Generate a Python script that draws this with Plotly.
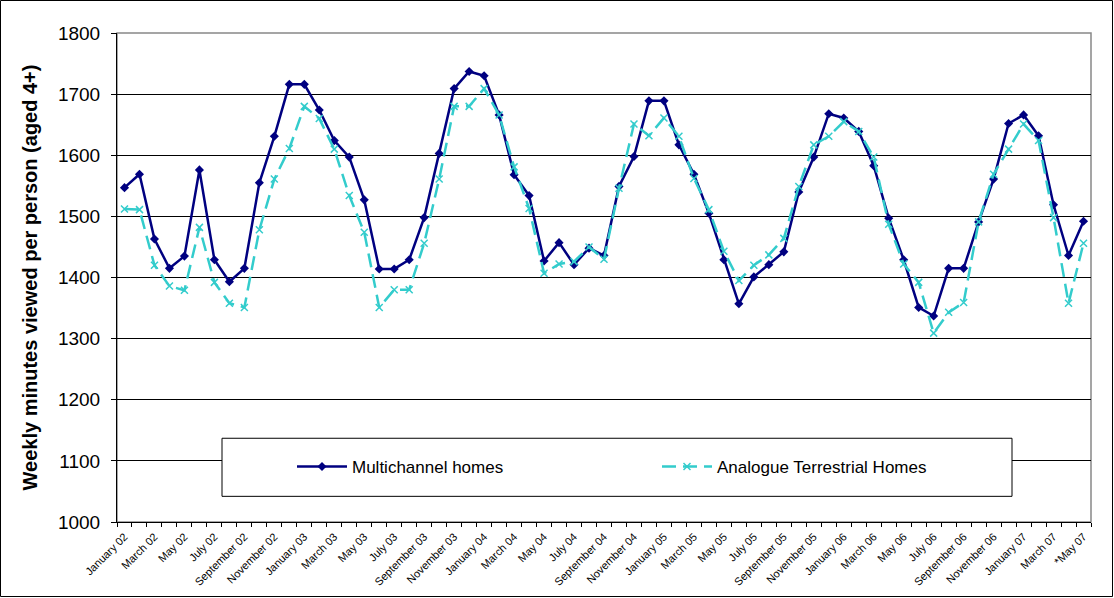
import numpy as np
import plotly.graph_objects as go

month_names = ["January", "February", "March", "April", "May", "June", "July",
               "August", "September", "October", "November", "December"]
months = []
for yr in ["02", "03", "04", "05", "06", "07"]:
    for m in month_names:
        months.append(f"{m} {yr}")
months = months[:65]
months[-1] = "*May 07"

multichannel = [1547, 1569, 1463, 1415, 1435, 1576, 1429, 1393, 1415, 1555, 1631, 1716,
                1716, 1674, 1624, 1597, 1527, 1414, 1414, 1429, 1498, 1603, 1709, 1737,
                1730, 1666, 1568, 1534, 1427, 1457, 1421, 1448, 1436, 1549, 1598, 1689,
                1689, 1617, 1569, 1505, 1429, 1357, 1401, 1421, 1442, 1540, 1597, 1668,
                1661, 1639, 1583, 1497, 1429, 1351, 1337, 1415, 1415, 1491, 1561, 1652,
                1666, 1632, 1519, 1436, 1492]

analogue = [1512, 1511, 1420, 1386, 1379, 1482, 1392, 1358, 1351, 1478, 1561, 1611,
            1680, 1660, 1610, 1534, 1474, 1351, 1380, 1380, 1456, 1561, 1680, 1680,
            1709, 1666, 1581, 1513, 1407, 1422, 1426, 1450, 1430, 1546, 1651, 1632,
            1661, 1631, 1562, 1511, 1443, 1395, 1420, 1437, 1464, 1549, 1617, 1631,
            1655, 1639, 1597, 1487, 1422, 1392, 1309, 1343, 1359, 1491, 1569, 1610,
            1651, 1624, 1498, 1358, 1456]

y_title = "Weekly minutes viewed per person (aged 4+)"
font_family = "Arial, Liberation Sans, sans-serif"

x = np.arange(len(months))

fig = go.Figure()
fig.add_trace(go.Scatter(
    x=x, y=multichannel, name="Multichannel homes", mode="lines+markers",
    line=dict(color="#000080", width=2.5),
    marker=dict(symbol="diamond", size=7, color="#000080"),
))
fig.add_trace(go.Scatter(
    x=x, y=analogue, name="Analogue Terrestrial Homes", mode="lines+markers",
    line=dict(color="#33CCCC", width=2.5, dash="14px,7px"),
    marker=dict(symbol="x-thin", size=7, line=dict(color="#33CCCC", width=1.5)),
))

W, H = 1114, 598
ml, mr, mt, mb = 117, 23, 33, 76
pw, ph = W - ml - mr, H - mt - mb

# legend box (white, black border) drawn inside plot area
fig.add_shape(type="rect", xref="paper", yref="y",
              x0=(222 - ml) / pw, x1=(1012 - ml) / pw, y0=1042, y1=1137,
              line=dict(color="black", width=1), fillcolor="white", layer="above")
# plot area border (top/right grey)
fig.add_shape(type="rect", xref="paper", yref="paper", x0=0, x1=1, y0=0, y1=1,
              line=dict(color="#888888", width=1.5), layer="below")
# outer frame
fig.add_shape(type="rect", xref="paper", yref="paper",
              x0=-(ml - 0.5) / pw, x1=1 + (mr - 1.5) / pw,
              y0=-(mb - 1.5) / ph, y1=1 + (mt - 0.5) / ph,
              line=dict(color="black", width=1))

fig.update_layout(
    width=W, height=H,
    margin=dict(l=ml, r=mr, t=mt, b=mb, autoexpand=False),
    paper_bgcolor="white", plot_bgcolor="white",
    font=dict(family=font_family, color="black"),
    showlegend=True,
    legend=dict(orientation="h", x=(292 - ml) / pw, xanchor="left",
                y=1 - (467 - mt) / ph, yanchor="middle",
                bgcolor="rgba(0,0,0,0)", font=dict(size=17, family=font_family),
                entrywidth=300, entrywidthmode="pixels", itemwidth=50),
)

fig.update_xaxes(
    range=[-0.5, len(months) - 0.5],
    tickvals=x[::2], ticktext=months[::2],
    tickangle=-45, tickfont=dict(size=11, family=font_family),
    ticks="", showgrid=False, zeroline=False, automargin=False,
    ticklabelstandoff=3,
    showline=True, linecolor="black", linewidth=1,
    minor=dict(tickvals=list(np.arange(-0.5, len(months), 1.0)), ticks="outside",
               ticklen=4, tickcolor="black", showgrid=False),
)
fig.update_yaxes(
    range=[1000, 1800], dtick=100, automargin=False,
    tickfont=dict(size=19, family=font_family),
    ticks="outside", ticklen=5, tickcolor="black", ticklabelstandoff=7,
    showgrid=True, gridcolor="black", gridwidth=1,
    showline=True, linecolor="black", linewidth=1, zeroline=False,
    title=dict(text=y_title, font=dict(size=20, family=font_family, weight="bold"),
               standoff=14),
)

fig.write_html("out.html", config={"displayModeBar": False},
               post_script="document.body.style.margin='0';")
